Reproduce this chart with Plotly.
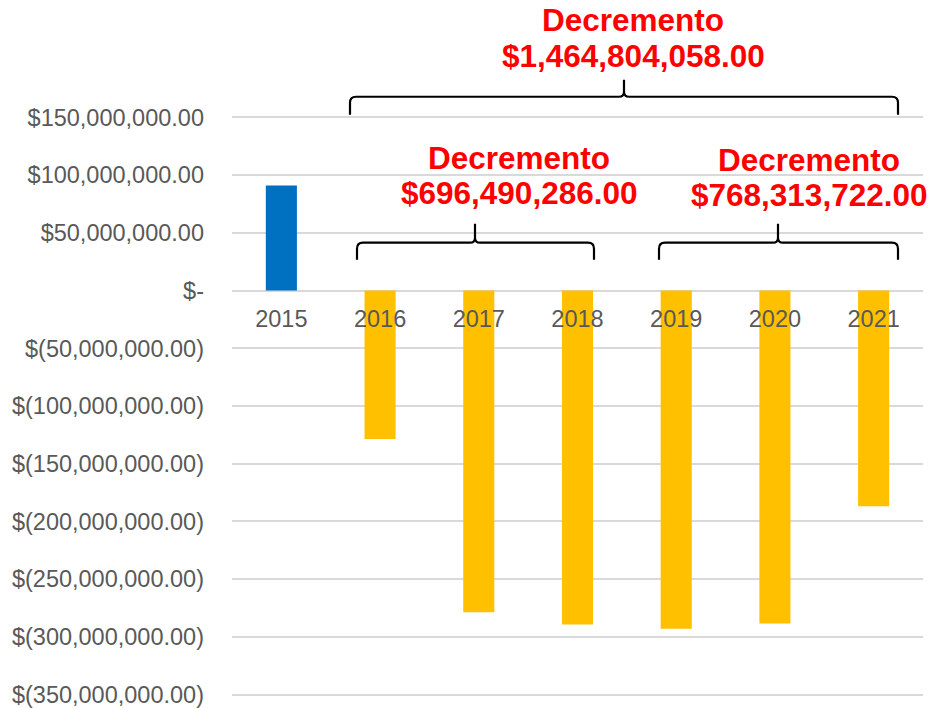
import plotly.graph_objects as go

# ---- data ----
years = ["2015", "2016", "2017", "2018", "2019", "2020", "2021"]
values = [91.1e6, -128.5e6, -278.7e6, -289.3e6, -293.0e6, -288.4e6, -186.9e6]
bar_colors = ["#0070C0", "#FFC000", "#FFC000", "#FFC000", "#FFC000", "#FFC000", "#FFC000"]

ytick_vals = [150e6, 100e6, 50e6, 0, -50e6, -100e6, -150e6, -200e6, -250e6, -300e6, -350e6]
ytick_text = ["$150,000,000.00", "$100,000,000.00", "$50,000,000.00", "$-",
              "$(50,000,000.00)", "$(100,000,000.00)", "$(150,000,000.00)",
              "$(200,000,000.00)", "$(250,000,000.00)", "$(300,000,000.00)",
              "$(350,000,000.00)"]

label_title = "Decremento"
total_label = "$1,464,804,058.00"
group1_label = "$696,490,286.00"
group2_label = "$768,313,722.00"

# ---- layout geometry (pixels) ----
W, H = 942, 708
PXM = 1.1546e-6          # pixels per unit value
L, R = 232, 923
YMIN, YMAX = -353e6, 153e6
T = 117.7 - (YMAX - 150e6) * PXM
B = 695 + (-350e6 - YMIN) * PXM


def px(x):
    return (x - L) / (R - L)


def py(y):
    return (B - y) / (B - T)


def brace(x0, x1, xm, ytop, yline, ybot, r=6, r2=5):
    pts = [
        f"M {px(x0)},{py(ybot)}",
        f"L {px(x0)},{py(yline + r)}",
        f"Q {px(x0)},{py(yline)} {px(x0 + r)},{py(yline)}",
        f"L {px(xm - r2)},{py(yline)}",
        f"Q {px(xm)},{py(yline)} {px(xm)},{py(yline - r2)}",
        f"L {px(xm)},{py(ytop)}",
        f"M {px(xm)},{py(yline - r2)}",
        f"Q {px(xm)},{py(yline)} {px(xm + r2)},{py(yline)}",
        f"L {px(x1 - r)},{py(yline)}",
        f"Q {px(x1)},{py(yline)} {px(x1)},{py(yline + r)}",
        f"L {px(x1)},{py(ybot)}",
    ]
    return dict(type="path", xref="paper", yref="paper", path=" ".join(pts),
                line=dict(color="black", width=2.2), layer="above")


fig = go.Figure()
fig.add_trace(go.Bar(x=years, y=values, marker=dict(color=bar_colors, line=dict(width=0)),
                     width=0.315, showlegend=False, hoverinfo="x+y"))

zero_pos = (0 - YMIN) / (YMAX - YMIN)

fig.update_layout(
    width=W, height=H,
    margin=dict(l=L, r=W - R, t=T, b=H - B, pad=0, autoexpand=False),
    paper_bgcolor="white", plot_bgcolor="white",
    font=dict(family="Liberation Sans, Arial, sans-serif", size=23.5, color="#595959"),
    xaxis=dict(type="category", range=[-0.5, 6.5], anchor="free", position=zero_pos,
               showgrid=False, showline=False, zeroline=False, ticks="",
               tickfont=dict(size=23.5, color="#595959"), ticklabelstandoff=12,
               layer="above traces", automargin=False),
    yaxis=dict(range=[YMIN, YMAX], tickvals=ytick_vals, ticktext=ytick_text,
               showgrid=True, gridcolor="#D9D9D9", gridwidth=1.6,
               zeroline=True, zerolinecolor="#D9D9D9", zerolinewidth=1.6,
               showline=False, ticks="", ticklabelstandoff=27, automargin=False,
               tickfont=dict(size=23.5, color="#595959")),
    bargap=0.685,
)

shapes = [
    brace(350, 898, 624, 80, 97, 115),
    brace(357, 594, 475, 224, 243, 260),
    brace(659, 898, 778, 224, 243, 260),
]
fig.update_layout(shapes=shapes)

red = dict(family="Liberation Sans, Arial, sans-serif", size=31.5, color="#FF0000")
ann = []
for (x, y, t) in [
    (633, 20, f"<b>{label_title}</b>"),
    (633, 56, f"<b>{total_label}</b>"),
    (519, 158, f"<b>{label_title}</b>"),
    (519, 193, f"<b>{group1_label}</b>"),
    (809, 160, f"<b>{label_title}</b>"),
    (809, 195, f"<b>{group2_label}</b>"),
]:
    ann.append(dict(x=px(x), y=py(y), xref="paper", yref="paper", text=t,
                    showarrow=False, xanchor="center", yanchor="middle", font=red))
fig.update_layout(annotations=ann)

fig.write_html("out.html", config={"displayModeBar": False},
               post_script="document.body.style.margin='0';document.body.style.padding='0';")
